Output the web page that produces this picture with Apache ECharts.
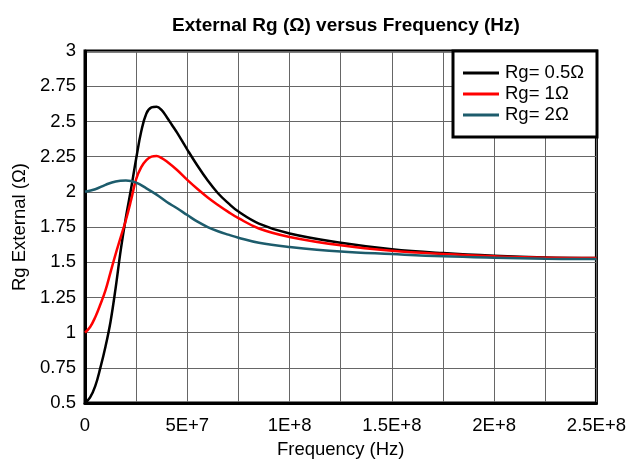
<!DOCTYPE html>
<html>
<head>
<meta charset="utf-8">
<script src="https://cdn.jsdelivr.net/npm/echarts@6/dist/echarts.min.js"></script>
<style>
html,body{margin:0;padding:0;background:#fff;}
#chart{width:629px;height:464px;}
</style>
</head>
<body>
<div id="chart"></div>
<script>
// Frequencies (Hz) at which the curves were read
const rg05Freq = [0, 0.25e7, 0.5e7, 0.75e7, 1e7, 1.25e7, 1.5e7, 1.75e7, 2e7, 2.25e7, 2.5e7, 2.75e7, 3e7, 3.25e7, 3.5e7, 3.75e7, 4e7, 4.25e7, 4.5e7, 5e7, 5.5e7, 6e7, 6.5e7, 7e7, 7.5e7, 8.5e7, 1e8, 1.25e8, 1.5e8, 1.75e8, 2e8, 2.25e8, 2.5e8];
const rg05Val  = [0.5, 0.54, 0.62, 0.75, 0.9, 1.08, 1.32, 1.59, 1.82, 2.02, 2.235, 2.43, 2.557, 2.6, 2.605, 2.58, 2.53, 2.475, 2.42, 2.3, 2.185, 2.08, 1.99, 1.92, 1.86, 1.775, 1.704, 1.639, 1.593, 1.565, 1.546, 1.534, 1.53];

const rg1Freq = [0, 0.25e7, 0.5e7, 0.75e7, 1e7, 1.25e7, 1.5e7, 1.75e7, 2e7, 2.25e7, 2.5e7, 2.75e7, 3e7, 3.25e7, 3.5e7, 3.75e7, 4e7, 4.5e7, 5e7, 5.5e7, 6e7, 6.5e7, 7e7, 7.5e7, 8.5e7, 1e8, 1.25e8, 1.5e8, 1.75e8, 2e8, 2.25e8, 2.5e8];
const rg1Val  = [1.0, 1.04, 1.11, 1.2, 1.3, 1.43, 1.56, 1.68, 1.8, 1.94, 2.09, 2.175, 2.225, 2.25, 2.255, 2.24, 2.215, 2.155, 2.085, 2.02, 1.96, 1.907, 1.858, 1.813, 1.74, 1.68, 1.62, 1.581, 1.558, 1.542, 1.532, 1.53];

const rg2Freq = [0, 0.5e7, 1e7, 1.5e7, 2e7, 2.5e7, 3e7, 3.5e7, 4e7, 4.5e7, 5e7, 5.5e7, 6e7, 6.5e7, 7e7, 7.5e7, 8.5e7, 1e8, 1.25e8, 1.5e8, 1.75e8, 2e8, 2.25e8, 2.5e8];
const rg2Val  = [2.0, 2.018, 2.05, 2.074, 2.08, 2.065, 2.025, 1.98, 1.928, 1.883, 1.835, 1.788, 1.75, 1.72, 1.696, 1.674, 1.638, 1.609, 1.576, 1.558, 1.542, 1.532, 1.525, 1.523];

const seriesNames = ['Rg= 0.5\u03A9', 'Rg= 1\u03A9', 'Rg= 2\u03A9'];
const seriesColors = ['#000000', '#ff0000', '#1d5c6c'];
const xTickLabels = ['0', '5E+7', '1E+8', '1.5E+8', '2E+8', '2.5E+8'];
const yTickLabels = ['0.5', '0.75', '1', '1.25', '1.5', '1.75', '2', '2.25', '2.5', '2.75', '3'];

const FONT = 'Liberation Sans, Arial, sans-serif';
const FS = 18.5;
const zip = (xs, ys) => xs.map((x, i) => [x, ys[i]]);
const dataSets = [zip(rg05Freq, rg05Val), zip(rg1Freq, rg1Val), zip(rg2Freq, rg2Val)];

const chart = echarts.init(document.getElementById('chart'), null, {renderer: 'canvas'});
chart.setOption({
  animation: false,
  backgroundColor: '#ffffff',
  title: {
    text: 'External Rg (\u03A9) versus Frequency (Hz)',
    left: 341, top: 11, textAlign: 'center',
    textStyle: {fontFamily: FONT, fontSize: 19, fontWeight: 'bold', color: '#000'}
  },
  grid: {left: 85, right: 32, top: 51, bottom: 54, show: true, borderColor: '#000', borderWidth: 3, backgroundColor: 'transparent'},
  xAxis: {
    type: 'value', min: 0, max: 2.5e8, interval: 2.5e7,
    name: 'Frequency (Hz)', nameLocation: 'middle', nameGap: 34,
    nameTextStyle: {fontFamily: FONT, fontSize: FS, color: '#000'},
    axisLine: {show: true, lineStyle: {color: '#000', width: 3}},
    axisTick: {show: false},
    splitLine: {show: true, lineStyle: {color: '#666', width: 1}},
    axisLabel: {
      fontFamily: FONT, fontSize: FS, color: '#000', margin: 13,
      formatter: v => {
        const k = Math.round(v / 5e7);
        return Math.abs(v - k * 5e7) < 1 ? xTickLabels[k] : '';
      }
    }
  },
  yAxis: {
    type: 'value', min: 0.5, max: 3, interval: 0.25,
    name: 'Rg External (\u03A9)', nameLocation: 'middle', nameGap: 54,
    nameTextStyle: {fontFamily: FONT, fontSize: FS, color: '#000'},
    axisLine: {show: true, lineStyle: {color: '#000', width: 3}},
    axisTick: {show: false},
    splitLine: {show: true, lineStyle: {color: '#666', width: 1}},
    axisLabel: {
      fontFamily: FONT, fontSize: FS, color: '#000', margin: 9,
      formatter: v => yTickLabels[Math.round((v - 0.5) / 0.25)]
    }
  },
  graphic: [{
    type: 'rect', z: 50,
    shape: {x: 453, y: 51, width: 144, height: 86},
    style: {fill: '#fff', stroke: '#000', lineWidth: 3}
  }],
  legend: {
    z: 60, orient: 'vertical', left: 463, top: 63.5,
    icon: 'rect', itemWidth: 36, itemHeight: 3, itemGap: 2,
    padding: 0,
    textStyle: {fontFamily: FONT, fontSize: FS, color: '#000', lineHeight: 19, padding: [0, 0, 0, 1]},
    data: seriesNames
  },
  series: dataSets.map((d, i) => ({
    name: seriesNames[i], type: 'line', data: d,
    smooth: 0.4, symbol: 'none',
    lineStyle: {color: seriesColors[i], width: 2.5},
    itemStyle: {color: seriesColors[i]},
    z: 5
  }))
});
</script>
</body>
</html>
